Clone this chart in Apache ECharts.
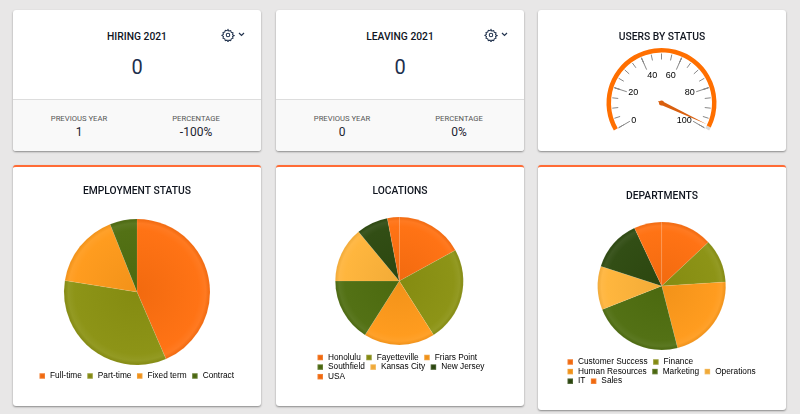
<!DOCTYPE html>
<html>
<head>
<meta charset="utf-8">
<script src="https://cdn.jsdelivr.net/npm/echarts@6/dist/echarts.min.js"></script>
<style>
  html,body { margin:0; padding:0; }
  body { width:800px; height:414px; background:#e8e7e7; overflow:hidden; font-family:Roboto,sans-serif; position:relative; }
  .card { position:absolute; width:248px; background:#fff; border-radius:3px; box-shadow:0 1px 2px #888; overflow:hidden; }
  .top { top:10px; height:141px; }
  .low { top:165px; border-top:2px solid #ff6b35; box-sizing:border-box; }
  .chart { position:absolute; left:0; top:0; width:100%; height:100%; }
  .head { position:absolute; top:20px; left:0; width:100%; text-align:center; font-size:10.3px; font-weight:500; color:#10151f; }
  .val { position:absolute; top:45px; left:0; width:100%; text-align:center; font-size:20px; color:#1c2f4d; }
  .foot { position:absolute; left:0; right:0; top:89px; bottom:0; background:#f9f9f9; border-top:1px solid #ddd; }
  .col { position:absolute; top:14px; width:124px; text-align:center; }
  .col small { display:block; font-size:7.7px; color:#555; line-height:10px; }
  .col b { display:block; font-size:12px; font-weight:400; color:#1c2430; line-height:16px; }
  .gear { position:absolute; left:208px; top:18px; }
</style>
</head>
<body>
<script>
// kpi cards
const kpiTitles = ['HIRING 2021', 'LEAVING 2021'];
const kpiValues = ['0', '0'];
const kpiPrevious = ['1', '0'];
const kpiPercent = ['-100%', '0%'];

// gauge
const gaugeTitle = 'USERS BY STATUS';
const gaugeValue = 98;

// pies
const employmentNames = ['Full-time', 'Part-time', 'Fixed term', 'Contract'];
const employmentValues = [43.5, 34, 16.5, 6];
const employmentRows = [4];
const locationNames = ['Honolulu', 'Fayetteville', 'Friars Point', 'Southfield', 'Kansas City', 'New Jersey', 'USA'];
const locationValues = [17, 24, 18, 16, 14, 8, 3];
const locationRows = [3, 3, 1];
const departmentNames = ['Customer Success', 'Finance', 'Human Resources', 'Marketing', 'Operations', 'IT', 'Sales'];
const departmentValues = [13, 11, 22, 23, 11, 13, 7];
const departmentRows = [2, 3, 2];

const palette = ['#ff7010', '#8b9212', '#ff9a1a', '#4f6e10', '#ffb43a', '#2e4a10', '#ff7010'];

const gearSvg = '<svg class="gear" width="14" height="14" viewBox="0 0 24 24" fill="none" stroke="#23344f" stroke-width="1.8">'
  + '<circle cx="12" cy="12" r="3"/>'
  + '<path d="M12 2.5l1.6 2.7 3-.8 1 3 3 1-.8 3 2.7 1.6-2.7 1.6.8 3-3 1-1 3-3-.8-1.6 2.7-1.6-2.7-3 .8-1-3-3-1 .8-3L1.5 12.500l2.700-1.600-.8-3 3-1 1-3 3 .8z"/></svg>'
  + '<svg style="position:absolute;left:225px;top:22px" width="7" height="5" viewBox="0 0 7 5" fill="none" stroke="#23344f" stroke-width="1.2"><path d="M1 1l2.500 2.500L6 1"/></svg>';

function kpiCard(i, left) {
  const el = document.createElement('div');
  el.className = 'card top';
  el.style.left = left + 'px';
  el.innerHTML = '<div class="head">' + kpiTitles[i] + '</div>' + gearSvg
    + '<div class="val">' + kpiValues[i] + '</div>'
    + '<div class="foot"><div class="col" style="left:4px"><small>PREVIOUS YEAR</small><b>' + kpiPrevious[i] + '</b></div>'
    + '<div class="col" style="left:121px"><small>PERCENTAGE</small><b>' + kpiPercent[i] + '</b></div></div>';
  document.body.appendChild(el);
}
kpiCard(0, 13);
kpiCard(1, 276);

function chartCard(cls, left, height) {
  const el = document.createElement('div');
  el.className = 'card ' + cls;
  el.style.left = left + 'px';
  if (height) el.style.height = height + 'px';
  const c = document.createElement('div');
  c.className = 'chart';
  el.appendChild(c);
  document.body.appendChild(el);
  return echarts.init(c);
}

const titleStyle = { fontFamily: 'Roboto', fontSize: 10.3, fontWeight: 500, color: '#10151f' };

const gaugeChart = chartCard('top', 538);
gaugeChart.setOption({
  animation: false,
  title: { text: gaugeTitle, left: 'center', top: 17, textStyle: titleStyle },
  series: [{
    type: 'gauge',
    center: [123.5, 93],
    radius: 55,
    min: 0, max: 100,
    startAngle: 210, endAngle: -30,
    splitNumber: 5,
    axisLine: { lineStyle: { width: 4.5, color: [[0.985, '#ff6f00'], [1, '#d9d9d9']] } },
    axisTick: { splitNumber: 4, distance: 1, length: 6, lineStyle: { color: '#888', width: 1 } },
    splitLine: { distance: 1, length: 13, lineStyle: { color: '#888', width: 1 } },
    axisLabel: { distance: 6, fontFamily: 'Liberation Sans', fontSize: 9, color: '#000' },
    pointer: { length: 50, width: 2, offsetCenter: [0, 0], itemStyle: { color: '#d95f0e' } },
    anchor: { show: true, size: 5, itemStyle: { color: '#d95f0e' } },
    detail: { show: false },
    title: { show: false },
    data: [{ value: gaugeValue }]
  }]
});

// mix a hex colour towards white (k>0) or black (k<0)
function shade(hex, k) {
  const n = parseInt(hex.slice(1), 16);
  const rgb = [n >> 16, (n >> 8) & 255, n & 255].map(v => Math.round(k > 0 ? v + (255 - v) * k : v * (1 + k)));
  return 'rgb(' + rgb.join(',') + ')';
}

function pieCard(left, height, title, titleTop, names, values, rows, cx, cy, r, legendLeft, legendTop) {
  const chart = chartCard('low', left, height);
  const data = names.map((name, i) => {
    const base = palette[i];
    return {
      name: name,
      value: values[i],
      itemStyle: {
        color: new echarts.graphic.RadialGradient(cx, cy, r, [
          { offset: 0, color: shade(base, -0.05) },
          { offset: 0.85, color: shade(base, 0.02) },
          { offset: 0.94, color: shade(base, 0.07) },
          { offset: 1, color: shade(base, -0.06) }
        ], true)
      }
    };
  });
  // one legend per row, the rows sit closer than the items
  let from = 0;
  const legends = rows.map((count, i) => {
    const row = names.slice(from, from + count);
    from += count;
    return {
      data: row, icon: 'rect', left: legendLeft, top: legendTop + i * 9.6,
      itemWidth: 5.5, itemHeight: 5.5, itemGap: 4.5, padding: 0,
      textStyle: { fontFamily: 'Liberation Sans', fontSize: 8.3, color: '#000' }
    };
  });
  chart.setOption({
    animation: false,
    title: { text: title, left: 'center', top: titleTop, textStyle: titleStyle },
    legend: legends,
    series: [{
      type: 'pie', center: [cx, cy], radius: r, startAngle: 90, clockwise: true,
      label: { show: false }, labelLine: { show: false },
      itemStyle: { borderColor: 'rgba(255,255,255,0.15)', borderWidth: 0.5 },
      data: data
    }]
  });
}

pieCard(13, 241, 'EMPLOYMENT STATUS', 14, employmentNames, employmentValues, employmentRows, 124, 125, 73, 25.5, 205);
pieCard(276, 241, 'LOCATIONS', 14, locationNames, locationValues, locationRows, 123.3, 114, 64, 40.5, 186.5);
pieCard(538, 245, 'DEPARTMENTS', 19, departmentNames, departmentValues, departmentRows, 123.7, 119, 64, 28.5, 191);
</script>
</body>
</html>
